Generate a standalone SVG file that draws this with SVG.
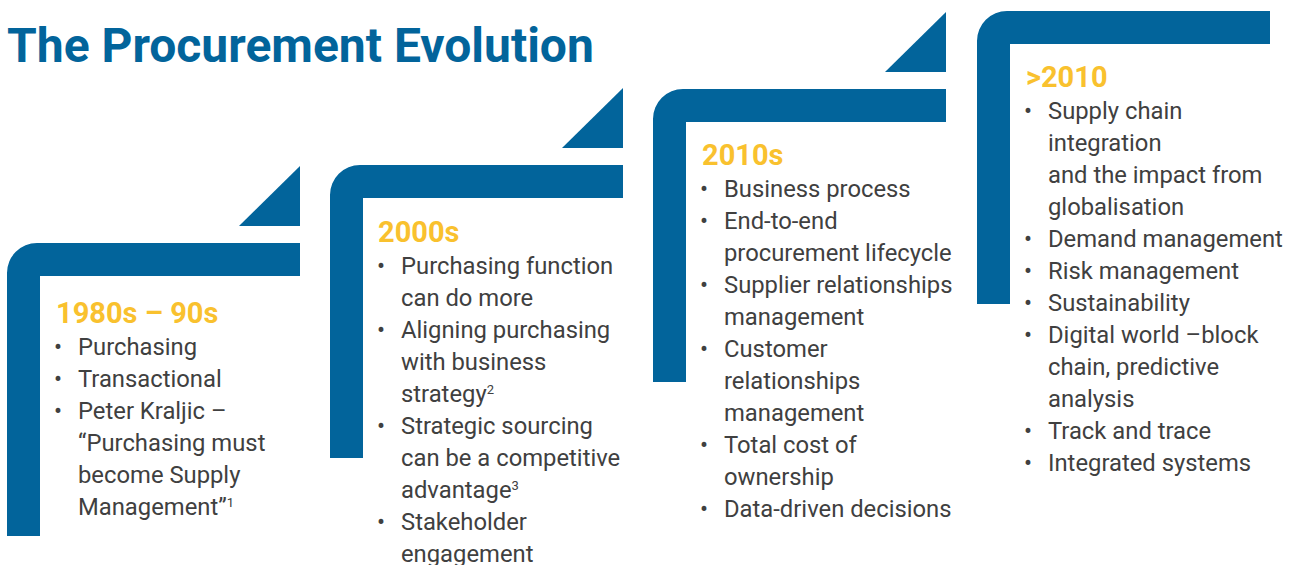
<svg xmlns="http://www.w3.org/2000/svg" xmlns:xlink="http://www.w3.org/1999/xlink" width="1296" height="565" viewBox="0 0 1296 565">
  <style>
    .bar { fill: #02649B; }
    .title { font-family: Roboto, "Liberation Sans", sans-serif; font-weight: 700; font-size: 48px; fill: #02649B; }
    .era { font-family: Roboto, "Liberation Sans", sans-serif; font-weight: 700; font-size: 29px; fill: #F9C12E; }
    .item { font-family: Roboto, "Liberation Sans", sans-serif; font-size: 23.8px; fill: #404040; }
    .sup { font-size: 13px; }
  </style>
  <defs>
    <!-- one step: rounded L-frame plus the small triangle above its right end -->
    <path id="frame" d="M0,293 V30 A30,30 0 0 1 30,0 H293 V33 H33 V293 Z"/>
    <path id="wedge" d="M232,-17 L293,-77 V-17 Z"/>
  </defs>

  <rect width="1296" height="565" fill="#FFFFFF"/>

  <text class="title" x="7" y="62">The Procurement Evolution</text>

  <g id="step-1980s">
    <use xlink:href="#frame" class="bar" x="7" y="243"/>
    <use xlink:href="#wedge" class="bar" x="7" y="243"/>
    <text class="era" x="56" y="323">1980s – 90s</text>
    <g class="item">
      <text x="54" y="355">•</text>
      <text x="54" y="387">•</text>
      <text x="54" y="419">•</text>
      <text x="78" y="355">Purchasing</text>
      <text x="78" y="387">Transactional</text>
      <text x="78" y="419">Peter Kraljic –</text>
      <text x="78" y="451">“Purchasing must</text>
      <text x="78" y="483">become Supply</text>
      <text x="78" y="515">Management”<tspan class="sup" dy="-8">1</tspan></text>
    </g>
  </g>

  <g id="step-2000s">
    <use xlink:href="#frame" class="bar" x="330" y="165"/>
    <use xlink:href="#wedge" class="bar" x="330" y="165"/>
    <text class="era" x="378" y="242">2000s</text>
    <g class="item">
      <text x="377" y="274">•</text>
      <text x="377" y="338">•</text>
      <text x="377" y="434">•</text>
      <text x="377" y="530">•</text>
      <text x="401" y="274">Purchasing function</text>
      <text x="401" y="306">can do more</text>
      <text x="401" y="338">Aligning purchasing</text>
      <text x="401" y="370">with business</text>
      <text x="401" y="402">strategy<tspan class="sup" dy="-8">2</tspan></text>
      <text x="401" y="434">Strategic sourcing</text>
      <text x="401" y="466">can be a competitive</text>
      <text x="401" y="498">advantage<tspan class="sup" dy="-8">3</tspan></text>
      <text x="401" y="530">Stakeholder</text>
      <text x="401" y="562">engagement</text>
    </g>
  </g>

  <g id="step-2010s">
    <use xlink:href="#frame" class="bar" x="653" y="89"/>
    <use xlink:href="#wedge" class="bar" x="653" y="89"/>
    <text class="era" x="702" y="165">2010s</text>
    <g class="item">
      <text x="700" y="197">•</text>
      <text x="700" y="229">•</text>
      <text x="700" y="293">•</text>
      <text x="700" y="357">•</text>
      <text x="700" y="453">•</text>
      <text x="700" y="517">•</text>
      <text x="724" y="197">Business process</text>
      <text x="724" y="229">End-to-end</text>
      <text x="724" y="261">procurement lifecycle</text>
      <text x="724" y="293">Supplier relationships</text>
      <text x="724" y="325">management</text>
      <text x="724" y="357">Customer</text>
      <text x="724" y="389">relationships</text>
      <text x="724" y="421">management</text>
      <text x="724" y="453">Total cost of</text>
      <text x="724" y="485">ownership</text>
      <text x="724" y="517">Data-driven decisions</text>
    </g>
  </g>

  <g id="step-after-2010">
    <use xlink:href="#frame" class="bar" x="977" y="11"/>
    <text class="era" x="1026" y="87">&gt;2010</text>
    <g class="item">
      <text x="1024" y="119">•</text>
      <text x="1024" y="247">•</text>
      <text x="1024" y="279">•</text>
      <text x="1024" y="311">•</text>
      <text x="1024" y="343">•</text>
      <text x="1024" y="439">•</text>
      <text x="1024" y="471">•</text>
      <text x="1048" y="119">Supply chain</text>
      <text x="1048" y="151">integration</text>
      <text x="1048" y="183">and the impact from</text>
      <text x="1048" y="215">globalisation</text>
      <text x="1048" y="247">Demand management</text>
      <text x="1048" y="279">Risk management</text>
      <text x="1048" y="311">Sustainability</text>
      <text x="1048" y="343">Digital world –block</text>
      <text x="1048" y="375">chain, predictive</text>
      <text x="1048" y="407">analysis</text>
      <text x="1048" y="439">Track and trace</text>
      <text x="1048" y="471">Integrated systems</text>
    </g>
  </g>
</svg>
